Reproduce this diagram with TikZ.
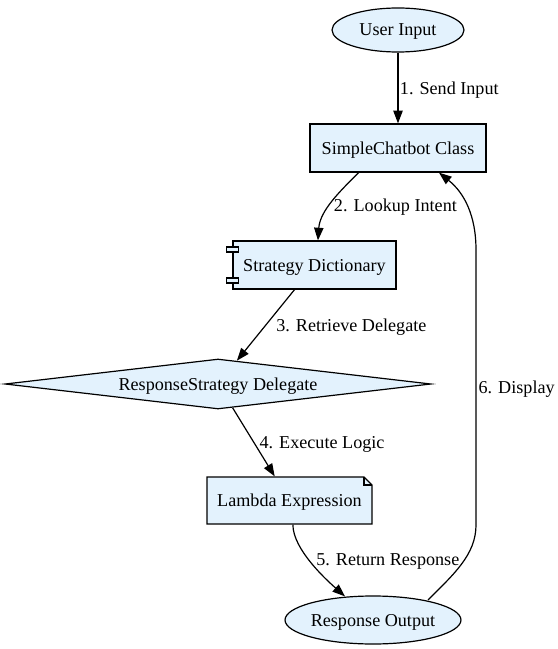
\documentclass[tikz,border=0pt]{standalone}
\usepackage{fontspec}
\setmainfont{Liberation Serif}
\usepackage{tikz}
\usetikzlibrary{shapes,arrows.meta,calc}
\definecolor{boxfill}{RGB}{227,242,253}
\tikzstyle{arrow} = [draw, line width=0.9pt, -{Triangle[length=9.5pt,width=7pt]}]
\tikzstyle{base} = [draw, line width=0.9pt, fill=boxfill, inner sep=0pt, text depth=0pt, font=\rmfamily\fontsize{13.6}{16}\selectfont]
\tikzstyle{oval} = [base, ellipse]
\tikzstyle{box} = [base, rectangle]
\tikzstyle{decision} = [base, diamond, aspect=8.5]
\tikzstyle{lbl} = [anchor=west, inner sep=0pt, text depth=0pt, font=\rmfamily\fontsize{13.6}{16}\selectfont]

\begin{document}
\begin{tikzpicture}[x=0.75pt, y=-0.75pt]
      \useasboundingbox (0,0) rectangle (557,649);

      % nodes
      \node (input) at (398, 30) [oval, minimum width=99pt, minimum height=33pt] {User Input};
      \node (chatbot) at (398, 148) [box, minimum width=132pt, minimum height=36pt] {SimpleChatbot Class};
      \node (dict) at (314.5, 265) [box, minimum width=122.25pt, minimum height=36pt] {Strategy Dictionary};
      \draw[line width=0.9pt, fill=boxfill] ([shift={(-6,-18)}]dict.west) rectangle ([shift={(6,-13)}]dict.west);
      \draw[line width=0.9pt, fill=boxfill] ([shift={(-6,13)}]dict.west) rectangle ([shift={(6,18)}]dict.west);
      \node (delegate) at (218, 384) [decision, minimum width=319.5pt, minimum height=37.5pt] {ResponseStrategy Delegate};
      \draw[line width=0.9pt, fill=boxfill] (207,477) -- (364,477) -- (372,485) -- (372,524) -- (207,524) -- cycle;
      \draw[line width=0.9pt] (364,477) -- (364,485) -- (372,485);
      \node (lambda) at (289.5, 500.5) [base, draw=none, fill=none, minimum width=123.75pt, minimum height=35.25pt] {Lambda Expression};
      \node (response) at (373, 620) [oval, minimum width=130.5pt, minimum height=36pt] {Response Output};

      % edges
      \path[arrow] (input) -- node[lbl, xshift=1pt] {1. Send Input} (chatbot);
      \path[arrow] (chatbot.212) .. controls +(-18,18) and +(2,-30) .. node[lbl, pos=0.55, xshift=2.5pt] {2. Lookup Intent} (dict.82);
      \path[arrow] (dict) -- node[lbl, xshift=7.5pt] {3. Retrieve Delegate} (delegate);
      \path[arrow] (delegate) -- node[lbl, xshift=4pt] {4. Execute Logic} (lambda);
      \path[arrow] (lambda.-82) .. controls +(0,25) and +(-18,-16) .. node[lbl, pos=0.45, xshift=5pt] {5. Return Response} ([shift={(-28,1)}]response.north);
      \path[arrow] ([shift={(55,4.5)}]response.north) .. controls +(25,-25) and +(0,30) .. (476,525) -- node[lbl, xshift=1.5pt] {6. Display} (476,250) .. controls +(0,-35) and +(25,20) .. (chatbot.-31);
    \end{tikzpicture}
\end{document}
